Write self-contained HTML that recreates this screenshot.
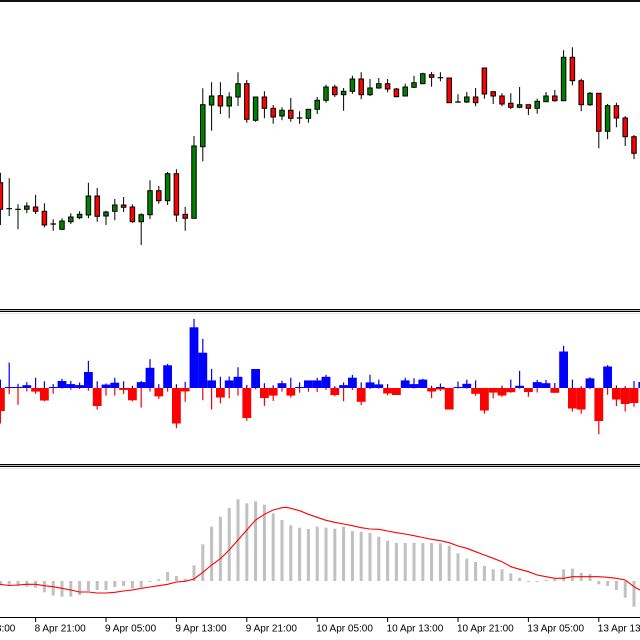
<!DOCTYPE html>
<html><head><meta charset="utf-8"><style>
html,body{margin:0;padding:0;background:#fff;width:640px;height:640px;overflow:hidden}
svg{display:block}
text{font-family:"Liberation Sans",sans-serif;font-size:10px;fill:#000}
</style></head><body>
<svg width="640" height="640" viewBox="0 0 640 640" xmlns="http://www.w3.org/2000/svg">
<rect x="0" y="0" width="640" height="640" fill="#fff"/>
<rect x="0" y="0" width="640" height="2" fill="#111"/>
<rect x="0" y="309" width="640" height="1" fill="#000"/>
<rect x="0" y="310" width="640" height="1" fill="#bbb"/>
<rect x="0" y="311" width="640" height="1" fill="#000"/>
<rect x="0" y="313" width="640" height="1" fill="#e6e6e6"/>
<rect x="0" y="464" width="640" height="1" fill="#000"/>
<rect x="0" y="465" width="640" height="1" fill="#bbb"/>
<rect x="0" y="466" width="640" height="1" fill="#000"/>
<rect x="0" y="468" width="640" height="1" fill="#e6e6e6"/>
<rect x="0" y="617" width="640" height="1" fill="#000"/>

<path fill="none" stroke="#000" stroke-width="1" d="M0.4 172.7V225M9.2 178.3V216M18 204.3V229.3M26.8 202.3V213.3M35.6 194.7V214M44.4 203.3V227.3M53.2 219.3V230.7M62 218.3V230M70.8 213.3V224M79.6 211.3V219.3M88.4 182.7V218.3M97.2 188V221.7M106 210.7V225M114.8 199V220.3M123.6 197V212M132.4 204.3V222.7M141.2 213.3V245M150 180.3V219M158.8 186V203.7M167.6 172V205M176.4 169.3V221.7M185.2 207V230.7M194 136V218.3M202.8 88.3V161.3M211.6 82.3V130.7M220.4 82.3V114M229.2 92.3V118.3M238 72.3V106M246.8 80V122.7M255.6 97V121.7M264.4 91.3V118.3M273.2 105V123.7M282 107.3V120.3M290.8 98V121.7M299.6 111.3V123.7M308.4 109.3V122.7M317.2 97V114M326 84.7V102.7M334.8 84.7V97M343.6 88V110.7M352.4 75.7V93.7M361.2 72.3V99.3M370 79V96M378.8 78V88.7M387.6 79V92.3M396.4 88V97.3M405.2 83.7V96M414 75.7V88M422.8 72.7V83.7M431.6 72V86.7M440.4 72.3V81.3M449.2 78V102.7M458 94.3V102.7M466.8 92V103M475.6 88V106.3M484.4 68V98.7M493.2 91.7V104M502 93.3V106.3M510.8 93.3V109M519.6 87V108.3M528.4 104.7V115M537.2 98.7V113.7M546 92V101.7M554.8 90V101.7M563.6 50.3V100.7M572.4 47.3V85.3M581.2 78.7V111.3M590 92V106M598.8 93.3V148.3M607.6 104V139.3M616.4 102.7V127.3M625.2 116V146M634 135V159"/>
<path fill="none" stroke="#000" stroke-width="1.2" d="M6.4 208.7h5.6M15.2 209.3h5.6M50.4 224h5.6M296.8 118h5.6M437.6 77.7h5.6M455.2 102h5.6"/>
<g fill="#008000" stroke="#000" stroke-width="1">
<rect x="24.55" y="206" width="4.5" height="3.3"/>
<rect x="59.75" y="221" width="4.5" height="8.3"/>
<rect x="68.55" y="217" width="4.5" height="4.7"/>
<rect x="77.35" y="214.3" width="4.5" height="3.4"/>
<rect x="86.15" y="196" width="4.5" height="19"/>
<rect x="103.75" y="212" width="4.5" height="4"/>
<rect x="112.55" y="205" width="4.5" height="6.3"/>
<rect x="138.95" y="214.7" width="4.5" height="7"/>
<rect x="147.75" y="190.7" width="4.5" height="24"/>
<rect x="165.35" y="173.7" width="4.5" height="27"/>
<rect x="191.75" y="146" width="4.5" height="72.3"/>
<rect x="200.55" y="104.7" width="4.5" height="42"/>
<rect x="209.35" y="96" width="4.5" height="9"/>
<rect x="226.95" y="97" width="4.5" height="9"/>
<rect x="235.75" y="83.7" width="4.5" height="13.3"/>
<rect x="253.35" y="97" width="4.5" height="23.3"/>
<rect x="279.75" y="110.3" width="4.5" height="5.7"/>
<rect x="306.15" y="109.3" width="4.5" height="9"/>
<rect x="314.95" y="100.3" width="4.5" height="9"/>
<rect x="323.75" y="87" width="4.5" height="13.3"/>
<rect x="341.35" y="91.3" width="4.5" height="3.4"/>
<rect x="350.15" y="79" width="4.5" height="12.3"/>
<rect x="367.75" y="88" width="4.5" height="6.7"/>
<rect x="376.55" y="83.7" width="4.5" height="4.3"/>
<rect x="402.95" y="87" width="4.5" height="9"/>
<rect x="411.75" y="82.7" width="4.5" height="4.6"/>
<rect x="420.55" y="73.7" width="4.5" height="10"/>
<rect x="464.55" y="97" width="4.5" height="5"/>
<rect x="517.35" y="104.7" width="4.5" height="2.6"/>
<rect x="534.95" y="101.3" width="4.5" height="7"/>
<rect x="543.75" y="96" width="4.5" height="5.7"/>
<rect x="561.35" y="57.3" width="4.5" height="43.4"/>
<rect x="587.75" y="93.3" width="4.5" height="11.4"/>
<rect x="605.35" y="105.7" width="4.5" height="25.6"/>
</g>
<g fill="#ff0000" stroke="#000" stroke-width="1">
<rect x="-1.85" y="182.7" width="4.5" height="26.6"/>
<rect x="33.35" y="207" width="4.5" height="4.3"/>
<rect x="42.15" y="211.3" width="4.5" height="13.7"/>
<rect x="94.95" y="196" width="4.5" height="20.3"/>
<rect x="121.35" y="205" width="4.5" height="2.3"/>
<rect x="130.15" y="207" width="4.5" height="14.7"/>
<rect x="156.55" y="190.7" width="4.5" height="10"/>
<rect x="174.15" y="173.7" width="4.5" height="41.3"/>
<rect x="182.95" y="214.3" width="4.5" height="4"/>
<rect x="218.15" y="95.7" width="4.5" height="10.3"/>
<rect x="244.55" y="83.7" width="4.5" height="35.6"/>
<rect x="262.15" y="97" width="4.5" height="11.3"/>
<rect x="270.95" y="108.3" width="4.5" height="8.7"/>
<rect x="288.55" y="110.3" width="4.5" height="8"/>
<rect x="332.55" y="87" width="4.5" height="7.7"/>
<rect x="358.95" y="79" width="4.5" height="15.7"/>
<rect x="385.35" y="83.7" width="4.5" height="5.3"/>
<rect x="394.15" y="89" width="4.5" height="7.7"/>
<rect x="429.35" y="74.7" width="4.5" height="2.6"/>
<rect x="446.95" y="78" width="4.5" height="24.7"/>
<rect x="473.35" y="97" width="4.5" height="5.7"/>
<rect x="482.15" y="68" width="4.5" height="26"/>
<rect x="490.95" y="91.7" width="4.5" height="4.3"/>
<rect x="499.75" y="96" width="4.5" height="8"/>
<rect x="508.55" y="103.3" width="4.5" height="4"/>
<rect x="526.15" y="104.7" width="4.5" height="3.6"/>
<rect x="552.55" y="96" width="4.5" height="4.7"/>
<rect x="570.15" y="57.3" width="4.5" height="23.4"/>
<rect x="578.95" y="80.7" width="4.5" height="24"/>
<rect x="596.55" y="93.3" width="4.5" height="38"/>
<rect x="614.15" y="105.7" width="4.5" height="12.3"/>
<rect x="622.95" y="118" width="4.5" height="18.7"/>
<rect x="631.75" y="136.7" width="4.5" height="16.6"/>
</g>

<path fill="none" stroke="#0000ff" stroke-width="1.2" d="M0.4 379.6V388M9.2 362.5V388M18 383.8V388M26.8 382.1V388M35.6 377.7V388M44.4 381.3V388M53.2 384.1V388M62 378.8V388M70.8 380.9V388M79.6 382.6V388M88.4 360.9V388M97.2 381.3V388M106 383.5V388M114.8 377.7V388M123.6 381.3V388M132.4 385.7V388M141.2 380.9V388M150 359.1V388M158.8 384.1V388M167.6 363.9V388M176.4 384.3V388M185.2 381.9V388M194 318.9V388M202.8 338.9V388M211.6 368.9V388M220.4 376.7V388M229.2 376.5V388M238 367.3V388M246.8 384.9V388M264.4 383.2V388M273.2 385.2V388M282 380.7V388M290.8 377.7V388M299.6 382.4V388M317.2 377.7V388M326 374.9V388M334.8 386.1V388M343.6 382.4V388M352.4 374.9V388M361.2 382.4V388M370 374.8V388M378.8 379.6V388M387.6 384.1V388M405.2 377.7V388M414 378.3V388M422.8 378.8V388M431.6 385.7V388M440.4 383.5V388M458 381.5V388M466.8 379.6V388M475.6 380.4V388M502 385.7V388M510.8 379.6V388M519.6 370.9V388M537.2 379.9V388M546 379.9V388M554.8 383V388M563.6 345.7V388M572.4 379.6V388M581.2 386.3V388M590 377.3V388M607.6 365.1V388M616.4 385.5V388M625.2 386.3V388M634 381V388"/>
<path fill="none" stroke="#ff0000" stroke-width="1.2" d="M0.4 388V423.5M9.2 388V394.1M18 388V404.8M26.8 388V391.4M35.6 388V393.9M44.4 388V401.4M53.2 388V393.6M62 388V388.6M70.8 388V389.9M79.6 388V389.3M88.4 388V390.8M97.2 388V409.6M106 388V395.6M114.8 388V395.6M123.6 388V393.9M132.4 388V401.2M141.2 388V407.6M150 388V391.6M158.8 388V398.9M167.6 388V391.6M176.4 388V428.3M185.2 388V401.8M202.8 388V400.3M211.6 388V409.6M220.4 388V403.4M229.2 388V398.3M238 388V395.6M246.8 388V420.8M255.6 388V389.2M264.4 388V405.9M273.2 388V400.9M282 388V391.6M290.8 388V397.6M299.6 388V392.8M308.4 388V391.7M317.2 388V391.9M326 388V390M334.8 388V396.4M343.6 388V401.4M352.4 388V390M361.2 388V405.1M370 388V389.1M378.8 388V388.6M387.6 388V395.2M396.4 388V395M414 388V388.6M431.6 388V398.1M440.4 388V391M449.2 388V408.7M458 388V388.6M466.8 388V388.8M475.6 388V395.8M484.4 388V413.8M493.2 388V398.3M502 388V396.7M510.8 388V392.8M519.6 388V388.8M528.4 388V396.7M537.2 388V392.5M554.8 388V392.8M572.4 388V411.5M581.2 388V413.7M590 388V389.1M598.8 388V434.2M607.6 388V394.7M616.4 388V406.1M625.2 388V411.5M634 388V406.7"/>
<g fill="#0000ff">
<rect x="4.8" y="387" width="8.8" height="1"/>
<rect x="13.6" y="387" width="8.8" height="1"/>
<rect x="22.4" y="385.2" width="8.8" height="2.8"/>
<rect x="48.8" y="387" width="8.8" height="1"/>
<rect x="57.6" y="381" width="8.8" height="7"/>
<rect x="66.4" y="384.1" width="8.8" height="3.9"/>
<rect x="75.2" y="385.1" width="8.8" height="2.9"/>
<rect x="84" y="372" width="8.8" height="16"/>
<rect x="101.6" y="384.6" width="8.8" height="3.4"/>
<rect x="110.4" y="382.7" width="8.8" height="5.3"/>
<rect x="136.8" y="382.1" width="8.8" height="5.9"/>
<rect x="145.6" y="367.8" width="8.8" height="20.2"/>
<rect x="163.2" y="365.3" width="8.8" height="22.7"/>
<rect x="189.6" y="327.3" width="8.8" height="60.7"/>
<rect x="198.4" y="352.7" width="8.8" height="35.3"/>
<rect x="207.2" y="380.4" width="8.8" height="7.6"/>
<rect x="224.8" y="380.4" width="8.8" height="7.6"/>
<rect x="233.6" y="376.8" width="8.8" height="11.2"/>
<rect x="251.2" y="369" width="8.8" height="19"/>
<rect x="277.6" y="383.2" width="8.8" height="4.8"/>
<rect x="295.2" y="387" width="8.8" height="1"/>
<rect x="304" y="380.4" width="8.8" height="7.6"/>
<rect x="312.8" y="380.4" width="8.8" height="7.6"/>
<rect x="321.6" y="376.8" width="8.8" height="11.2"/>
<rect x="339.2" y="385.1" width="8.8" height="2.9"/>
<rect x="348" y="377.7" width="8.8" height="10.3"/>
<rect x="365.6" y="382.4" width="8.8" height="5.6"/>
<rect x="374.4" y="384.4" width="8.8" height="3.6"/>
<rect x="400.8" y="380.4" width="8.8" height="7.6"/>
<rect x="409.6" y="384.1" width="8.8" height="3.9"/>
<rect x="418.4" y="379.6" width="8.8" height="8.4"/>
<rect x="436" y="387" width="8.8" height="1"/>
<rect x="453.6" y="387" width="8.8" height="1"/>
<rect x="462.4" y="383.8" width="8.8" height="4.2"/>
<rect x="515.2" y="385.8" width="8.8" height="2.2"/>
<rect x="532.8" y="382.1" width="8.8" height="5.9"/>
<rect x="541.6" y="383.2" width="8.8" height="4.8"/>
<rect x="559.2" y="351.5" width="8.8" height="36.5"/>
<rect x="585.6" y="378.4" width="8.8" height="9.6"/>
<rect x="603.2" y="366.5" width="8.8" height="21.5"/>
<rect x="638.4" y="382" width="8.8" height="6"/>
</g>
<g fill="#ff0000">
<rect x="-4" y="388" width="8.8" height="23"/>
<rect x="31.2" y="388" width="8.8" height="3.6"/>
<rect x="40" y="388" width="8.8" height="12.5"/>
<rect x="92.8" y="388" width="8.8" height="18"/>
<rect x="119.2" y="388" width="8.8" height="1.9"/>
<rect x="128" y="388" width="8.8" height="12.3"/>
<rect x="154.4" y="388" width="8.8" height="8.4"/>
<rect x="172" y="388" width="8.8" height="35.5"/>
<rect x="180.8" y="388" width="8.8" height="3.4"/>
<rect x="216" y="388" width="8.8" height="9.5"/>
<rect x="242.4" y="388" width="8.8" height="30"/>
<rect x="260" y="388" width="8.8" height="10"/>
<rect x="268.8" y="388" width="8.8" height="7.6"/>
<rect x="286.4" y="388" width="8.8" height="7.6"/>
<rect x="330.4" y="388" width="8.8" height="7"/>
<rect x="356.8" y="388" width="8.8" height="13.8"/>
<rect x="383.2" y="388" width="8.8" height="5.5"/>
<rect x="392" y="388" width="8.8" height="7"/>
<rect x="427.2" y="388" width="8.8" height="3.5"/>
<rect x="436" y="388" width="8.8" height="1.5"/>
<rect x="444.8" y="388" width="8.8" height="21.5"/>
<rect x="471.2" y="388" width="8.8" height="5.8"/>
<rect x="480" y="388" width="8.8" height="22.5"/>
<rect x="488.8" y="388" width="8.8" height="4.6"/>
<rect x="497.6" y="388" width="8.8" height="7.5"/>
<rect x="506.4" y="388" width="8.8" height="4.2"/>
<rect x="524" y="388" width="8.8" height="4"/>
<rect x="550.4" y="388" width="8.8" height="4.8"/>
<rect x="568" y="388" width="8.8" height="20.5"/>
<rect x="576.8" y="388" width="8.8" height="21.5"/>
<rect x="594.4" y="388" width="8.8" height="33"/>
<rect x="612" y="388" width="8.8" height="11.5"/>
<rect x="620.8" y="388" width="8.8" height="16"/>
<rect x="629.6" y="388" width="8.8" height="15"/>
</g>

<g fill="#c0c0c0">
<rect x="-1.1" y="581" width="3" height="4"/>
<rect x="7.7" y="581" width="3" height="4.7"/>
<rect x="16.5" y="581" width="3" height="5"/>
<rect x="25.3" y="581" width="3" height="5.7"/>
<rect x="34.1" y="581" width="3" height="6.7"/>
<rect x="42.9" y="581" width="3" height="11.3"/>
<rect x="51.7" y="581" width="3" height="14.7"/>
<rect x="60.5" y="581" width="3" height="15.7"/>
<rect x="69.3" y="581" width="3" height="15.7"/>
<rect x="78.1" y="581" width="3" height="14"/>
<rect x="86.9" y="581" width="3" height="10"/>
<rect x="95.7" y="581" width="3" height="9"/>
<rect x="104.5" y="581" width="3" height="9"/>
<rect x="113.3" y="581" width="3" height="6"/>
<rect x="122.1" y="581" width="3" height="5"/>
<rect x="130.9" y="581" width="3" height="7.7"/>
<rect x="139.7" y="581" width="3" height="6.3"/>
<rect x="148.5" y="581" width="3" height="1"/>
<rect x="157.3" y="579.3" width="3" height="1.7"/>
<rect x="166.1" y="572" width="3" height="9"/>
<rect x="174.9" y="576" width="3" height="5"/>
<rect x="183.7" y="578.7" width="3" height="2.3"/>
<rect x="192.5" y="565.3" width="3" height="15.7"/>
<rect x="201.3" y="544.3" width="3" height="36.7"/>
<rect x="210.1" y="526.7" width="3" height="54.3"/>
<rect x="218.9" y="516.7" width="3" height="64.3"/>
<rect x="227.7" y="508" width="3" height="73"/>
<rect x="236.5" y="499.3" width="3" height="81.7"/>
<rect x="245.3" y="503.3" width="3" height="77.7"/>
<rect x="254.1" y="501.3" width="3" height="79.7"/>
<rect x="262.9" y="504.7" width="3" height="76.3"/>
<rect x="271.7" y="513.3" width="3" height="67.7"/>
<rect x="280.5" y="520" width="3" height="61"/>
<rect x="289.3" y="525.3" width="3" height="55.7"/>
<rect x="298.1" y="527.7" width="3" height="53.3"/>
<rect x="306.9" y="529" width="3" height="52"/>
<rect x="315.7" y="526.7" width="3" height="54.3"/>
<rect x="324.5" y="527.7" width="3" height="53.3"/>
<rect x="333.3" y="528.7" width="3" height="52.3"/>
<rect x="342.1" y="526.7" width="3" height="54.3"/>
<rect x="350.9" y="531" width="3" height="50"/>
<rect x="359.7" y="531.7" width="3" height="49.3"/>
<rect x="368.5" y="533" width="3" height="48"/>
<rect x="377.3" y="536.7" width="3" height="44.3"/>
<rect x="386.1" y="540.7" width="3" height="40.3"/>
<rect x="394.9" y="543" width="3" height="38"/>
<rect x="403.7" y="543" width="3" height="38"/>
<rect x="412.5" y="543" width="3" height="38"/>
<rect x="421.3" y="543" width="3" height="38"/>
<rect x="430.1" y="543" width="3" height="38"/>
<rect x="438.9" y="543.3" width="3" height="37.7"/>
<rect x="447.7" y="545.7" width="3" height="35.3"/>
<rect x="456.5" y="553.3" width="3" height="27.7"/>
<rect x="465.3" y="558.7" width="3" height="22.3"/>
<rect x="474.1" y="562" width="3" height="19"/>
<rect x="482.9" y="566" width="3" height="15"/>
<rect x="491.7" y="569.3" width="3" height="11.7"/>
<rect x="500.5" y="569.3" width="3" height="11.7"/>
<rect x="509.3" y="573.3" width="3" height="7.7"/>
<rect x="518.1" y="577.7" width="3" height="3.3"/>
<rect x="526.9" y="581" width="3" height="1"/>
<rect x="535.7" y="581" width="3" height="1"/>
<rect x="544.5" y="580" width="3" height="1"/>
<rect x="553.3" y="579" width="3" height="2"/>
<rect x="562.1" y="569.3" width="3" height="11.7"/>
<rect x="570.9" y="568.7" width="3" height="12.3"/>
<rect x="579.7" y="573" width="3" height="8"/>
<rect x="588.5" y="574" width="3" height="7"/>
<rect x="597.3" y="581" width="3" height="3.3"/>
<rect x="606.1" y="581" width="3" height="5"/>
<rect x="614.9" y="581" width="3" height="9"/>
<rect x="623.7" y="581" width="3" height="16.7"/>
<rect x="632.5" y="581" width="3" height="25.7"/>
</g>
<polyline fill="none" stroke="#ff0000" stroke-width="1.1" points="0,584.3 9.2,585.5 18,585 26.8,584.3 35.6,584.3 44.4,585.7 53.2,586.7 62,588.3 70.8,590 79.6,592 88.4,592 97.2,593 106,593 114.8,592.3 123.6,591 132.4,590 141.2,588.3 150,587 158.8,585.7 167.6,584.3 176.4,582 185.2,581.3 194,579 202.8,572.3 211.6,565 220.4,558.7 229.2,550 238,540 246.8,530 255.6,520 264.4,514.3 273.2,510 282,507.7 286,507.3 290.8,508.3 299.6,510.7 308.4,514.3 317.2,517.3 326,520.3 334.8,522.3 343.6,524 352.4,525.7 361.2,527.7 370,529 378.8,529.3 387.6,531 396.4,532.7 405.2,534 414,535.7 422.8,537.5 431.6,539.3 440.4,540.7 449.2,542.7 458,546 466.8,548.3 475.6,551.7 484.4,555 493.2,558.3 502,561.7 510.8,566.7 519.6,569.3 528.4,571.7 537.2,575 546,576.7 554.8,578.3 563.6,578.3 572.4,576.7 581.2,576.7 590,576.7 598.8,576.7 607.6,577.3 616.4,578.3 625.2,580 634,586.7 640,590"/>

<path fill="none" stroke="#000" stroke-width="1" d="M35.6 618V622M106 618V622M176.4 618V622M246.8 618V622M317.2 618V622M387.6 618V622M458 618V622M528.4 618V622M598.8 618V622"/>
<text x="-35.8" y="631.5">8 Apr 13:00</text>
<text x="34.6" y="631.5">8 Apr 21:00</text>
<text x="105" y="631.5">9 Apr 05:00</text>
<text x="175.4" y="631.5">9 Apr 13:00</text>
<text x="245.8" y="631.5">9 Apr 21:00</text>
<text x="316.2" y="631.5">10 Apr 05:00</text>
<text x="386.6" y="631.5">10 Apr 13:00</text>
<text x="457" y="631.5">10 Apr 21:00</text>
<text x="527.4" y="631.5">13 Apr 05:00</text>
<text x="597.8" y="631.5">13 Apr 13:00</text>
</svg>
</body></html>
